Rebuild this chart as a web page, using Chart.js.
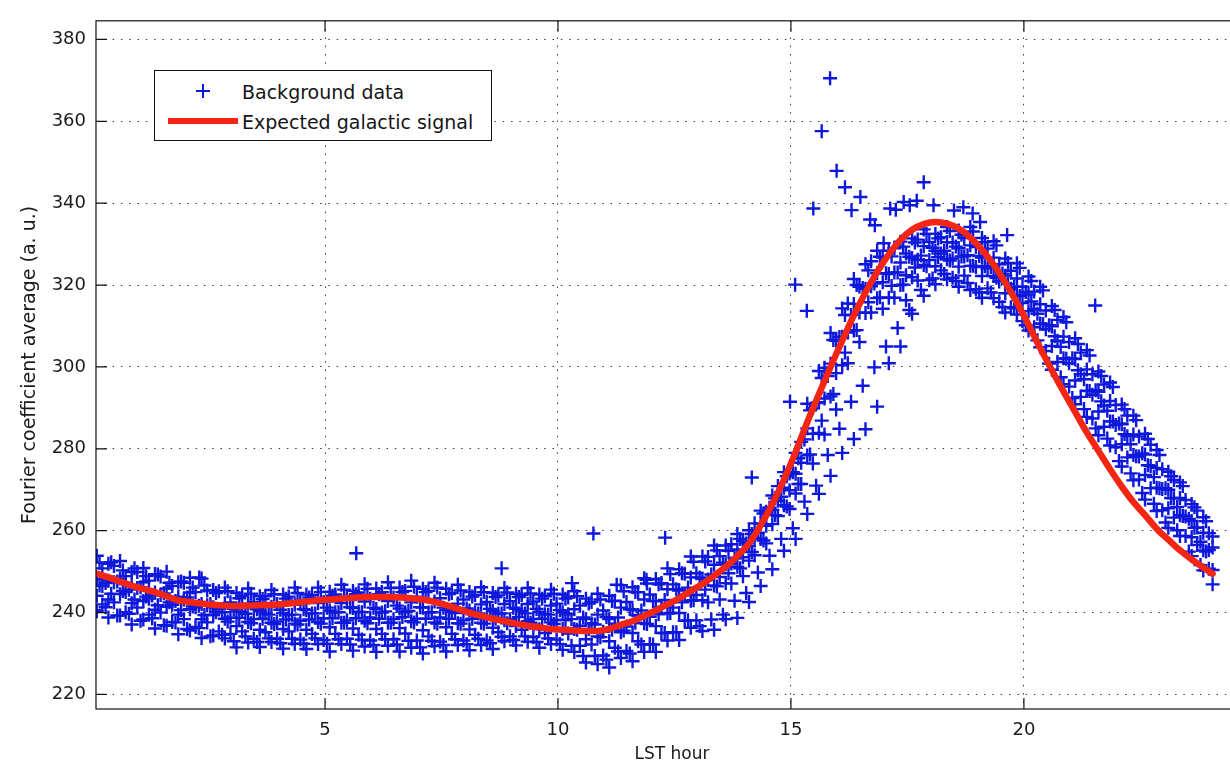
<!DOCTYPE html>
<html>
<head>
<meta charset="utf-8">
<title>Fourier coefficient average vs LST hour</title>
<script src="https://cdn.jsdelivr.net/npm/chart.js@4.4.1/dist/chart.umd.min.js"></script>
<style>
  html, body { margin: 0; padding: 0; background: #fff; overflow: hidden; }
  #wrap { position: relative; width: 1260px; height: 767px; }
  #chart { position: absolute; left: 0; top: 0; }
  /* legend box, drawn in HTML on top of the canvas */
  #legendBox {
    position: absolute; left: 154px; top: 70px; width: 336px; height: 69px;
    border: 1.3px solid #111; background: #fff;
    font-family: 'DejaVu Sans', sans-serif; font-size: 19px; color: #151515;
  }
  #legendBox .label { position: absolute; left: 87px; line-height: 22px; white-space: nowrap; }
  #legendBox .plus { position: absolute; left: 41px; top: 13px; width: 14px; height: 14px; }
  #legendBox .plus span { position: absolute; background: rgb(14, 24, 220); }
  #legendBox .plus .h { left: 0; top: 6px; width: 14px; height: 2px; }
  #legendBox .plus .v { left: 6px; top: 0; width: 2px; height: 14px; }
  #legendBox .redline { position: absolute; left: 13px; top: 46.5px; width: 70px; height: 6.5px; background: #f22613; }
</style>
</head>
<body>
<div id="wrap">
  <canvas id="chart" width="1260" height="767"></canvas>
  <div id="legendBox">
    <div class="plus"><span class="h"></span><span class="v"></span></div>
    <div class="label" style="top: 10px;">Background data</div>
    <div class="redline"></div>
    <div class="label" style="top: 40px;">Expected galactic signal</div>
  </div>
</div>
<script>
// sampling hours (four interleaved sets of days)
const hoursA = [0.10,0.35,0.60,0.85,1.10,1.35,1.60,1.85,2.10,2.35,2.60,2.85,3.10,3.35,3.60,3.85,4.10,4.35,4.60,4.85,
  5.10,5.35,5.60,5.85,6.10,6.35,6.60,6.85,7.10,7.35,7.60,7.85,8.10,8.35,8.60,8.85,9.10,9.35,9.60,9.85,
  10.10,10.35,10.60,10.85,11.10,11.35,11.60,11.85,12.10,12.35,12.60,12.85,13.10,13.35,13.60,13.85,14.10,14.35,14.60,14.85,
  15.10,15.35,15.60,15.85,16.10,16.35,16.60,16.85,17.10,17.35,17.60,17.85,18.10,18.35,18.60,18.85,19.10,19.35,19.60,19.85,
  20.10,20.35,20.60,20.85,21.10,21.35,21.60,21.85,22.10,22.35,22.60,22.85,23.10,23.35,23.60,23.85,24.05];
const hoursB = [0.22,0.47,0.72,0.97,1.22,1.47,1.72,1.97,2.22,2.47,2.72,2.97,3.22,3.47,3.72,3.97,4.22,4.47,4.72,4.97,
  5.22,5.47,5.72,5.97,6.22,6.47,6.72,6.97,7.22,7.47,7.72,7.97,8.22,8.47,8.72,8.97,9.22,9.47,9.72,9.97,
  10.22,10.47,10.72,10.97,11.22,11.47,11.72,11.97,12.22,12.47,12.72,12.97,13.22,13.47,13.72,13.97,14.22,14.47,14.72,14.97,
  15.22,15.47,15.72,15.97,16.22,16.47,16.72,16.97,17.22,17.47,17.72,17.97,18.22,18.47,18.72,18.97,19.22,19.47,19.72,19.97,
  20.22,20.47,20.72,20.97,21.22,21.47,21.72,21.97,22.22,22.47,22.72,22.97,23.22,23.47,23.72,23.97];
const hoursC = [0.16,0.41,0.66,0.91,1.16,1.41,1.66,1.91,2.16,2.41,2.66,2.91,3.16,3.41,3.66,3.91,4.16,4.41,4.66,4.91,
  5.16,5.41,5.66,5.91,6.16,6.41,6.66,6.91,7.16,7.41,7.66,7.91,8.16,8.41,8.66,8.91,9.16,9.41,9.66,9.91,
  10.16,10.41,10.66,10.91,11.16,11.41,11.66,11.91,12.16,12.41,12.66,12.91,13.16,13.41,13.66,13.91,14.16,14.41,14.66,14.91,
  15.16,15.41,15.66,15.91,16.16,16.41,16.66,16.91,17.16,17.41,17.66,17.91,18.16,18.41,18.66,18.91,19.16,19.41,19.66,19.91,
  20.16,20.41,20.66,20.91,21.16,21.41,21.66,21.91,22.16,22.41,22.66,22.91,23.16,23.41,23.66,23.91];
const hoursD = [0.04,0.29,0.54,0.79,1.04,1.29,1.54,1.79,2.04,2.29,2.54,2.79,3.04,3.29,3.54,3.79,4.04,4.29,4.54,4.79,
  5.04,5.29,5.54,5.79,6.04,6.29,6.54,6.79,7.04,7.29,7.54,7.79,8.04,8.29,8.54,8.79,9.04,9.29,9.54,9.79,
  10.04,10.29,10.54,10.79,11.04,11.29,11.54,11.79,12.04,12.29,12.54,12.79,13.04,13.29,13.54,13.79,14.04,14.29,14.54,14.79,
  15.04,15.29,15.54,15.79,16.04,16.29,16.54,16.79,17.04,17.29,17.54,17.79,18.04,18.29,18.54,18.79,19.04,19.29,19.54,19.79,
  20.04,20.29,20.54,20.79,21.04,21.29,21.54,21.79,22.04,22.29,22.54,22.79,23.04,23.29,23.54,23.79];

// background data, one array per day
const day1 = [253.9,251.9,252.6,249.9,250.9,249.4,250.0,247.4,248.5,248.3,
  245.5,246.1,244.8,245.9,244.0,245.5,244.4,246.1,244.4,246.1,
  245.1,246.8,245.3,246.9,245.9,247.4,246.1,247.8,245.8,247.3,
  245.8,246.8,245.0,246.2,244.8,246.0,244.6,246.0,244.4,245.6,
  244.4,245.2,243.4,244.6,244.1,246.7,246.2,248.4,248.2,250.8,
  250.6,253.7,253.7,256.4,256.4,259.2,260.1,264.9,268.6,274.3,
  279.0,291.0,299.0,308.3,314.3,321.5,325.1,328.4,328.4,330.6,
  331.4,333.6,332.5,334.2,333.3,334.2,331.5,330.7,326.5,325.3,
  322.1,319.6,314.9,312.2,307.0,304.1,298.9,296.2,290.8,288.1,
  283.7,279.7,274.4,271.8,266.5,263.3,258.6];
const day2 = [250.8,251.4,248.9,249.9,247.8,248.8,246.5,247.3,245.0,245.4,
  245.2,242.5,244.1,242.6,244.0,242.1,243.9,242.8,244.3,242.6,
  244.4,243.3,244.9,243.4,245.0,243.7,245.3,243.9,245.3,243.5,
  244.8,243.2,244.3,242.6,244.2,242.8,244.3,242.7,244.0,242.2,
  243.7,241.7,242.6,240.5,242.9,242.6,245.0,244.4,247.2,246.9,
  249.5,249.6,253.6,253.8,256.7,257.4,261.8,264.6,270.9,274.0,
  281.7,289.9,299.8,306.4,315.5,319.6,325.8,326.7,329.0,327.7,
  331.1,330.5,331.7,330.4,331.5,329.3,328.9,325.1,323.5,319.6,
  318.4,313.8,311.5,306.1,303.5,298.2,295.7,290.7,288.1,283.0,
  281.0,275.0,272.4,267.5,264.9,259.4];
const day3 = [248.2,247.8,248.3,246.6,247.4,244.9,245.9,243.9,244.9,242.1,
  241.3,242.3,240.3,242.2,240.4,241.4,239.9,241.9,240.6,242.3,
  240.5,242.3,241.1,242.7,240.9,242.8,241.0,242.5,241.2,242.7,
  240.7,242.2,240.5,242.0,240.4,242.1,240.9,242.1,240.2,241.7,
  240.1,240.8,238.4,239.5,238.4,241.2,240.6,243.2,242.8,245.7,
  245.4,248.6,248.3,251.7,251.8,255.4,256.2,261.7,265.1,270.5,
  273.9,285.0,291.4,300.8,307.4,315.4,319.1,322.9,322.7,325.5,
  326.6,329.5,328.4,330.5,329.0,329.7,326.7,326.7,322.3,321.6,
  317.7,315.3,309.9,307.4,301.9,299.4,293.9,291.7,286.0,283.5,
  278.6,275.3,270.0,268.0,262.4,259.5,255.9];
const day4 = [246.5,247.4,245.0,246.0,243.4,244.3,241.9,243.2,241.3,241.8,
  240.8,238.8,240.2,238.4,239.8,237.8,239.4,238.0,239.8,238.6,
  240.1,238.1,240.2,238.8,240.0,238.4,240.1,238.5,240.0,238.8,
  240.2,238.1,240.0,238.4,239.8,238.4,240.4,238.4,239.6,238.2,
  239.6,236.8,237.4,235.3,237.3,236.6,239.4,239.0,241.4,241.2,
  244.2,244.3,248.1,248.7,252.0,253.5,258.2,261.2,267.3,269.9,
  276.6,283.7,292.3,298.5,308.4,313.3,319.7,320.7,323.1,322.4,
  326.2,326.1,327.7,326.5,327.0,324.4,324.1,320.9,319.1,315.6,
  314.1,309.2,306.4,300.9,298.2,293.2,290.6,285.8,283.1,278.1,
  275.8,270.2,267.9,263.5,260.8,255.3];
const day5 = [244.1,243.2,244.5,242.3,242.8,240.7,241.4,239.5,240.8,238.4,
  239.4,238.5,236.7,237.7,235.8,237.5,236.0,237.3,235.8,237.7,
  236.4,237.5,236.1,238.0,236.0,237.5,236.2,237.9,235.7,237.6,
  236.4,237.4,235.9,237.5,236.3,238.1,236.7,237.9,235.9,237.6,
  236.0,236.0,233.5,234.2,233.0,235.2,235.0,237.4,236.7,239.8,
  239.9,242.9,243.0,246.6,247.2,251.2,252.7,258.0,261.6,266.2,
  269.1,278.4,283.9,292.8,300.4,308.9,313.2,316.8,316.9,320.0,
  321.9,324.9,324.6,326.3,324.5,324.7,322.2,322.2,318.0,317.5,
  313.6,310.6,305.1,302.1,296.7,294.2,289.1,286.7,281.1,278.5,
  273.6,270.5,265.5,263.8,258.4,255.2,250.4];
const day6 = [242.0,242.5,240.1,241.2,239.5,240.0,237.7,238.4,236.5,237.6,
  235.4,234.8,235.4,233.6,235.2,233.6,235.4,233.4,234.8,233.3,
  234.8,233.6,234.6,233.2,234.8,233.5,234.9,233.2,234.2,232.9,
  234.8,233.2,234.6,233.2,235.2,234.2,235.8,234.0,235.0,233.4,
  234.9,231.9,232.2,229.5,231.4,230.6,233.0,232.3,235.0,235.2,
  238.0,238.1,242.5,243.2,247.1,248.9,254.0,256.9,263.6,265.3,
  271.4,276.4,283.5,289.6,300.9,306.1,313.3,314.2,316.9,316.3,
  321.1,321.2,323.6,321.8,322.3,319.0,319.2,315.9,314.6,311.2,
  309.7,303.9,301.2,295.2,292.7,287.4,285.4,280.4,277.9,272.5,
  270.4,265.0,263.2,258.7,256.5,250.7];
const day7 = [240.3,238.8,239.3,237.1,238.3,236.1,236.8,234.7,235.6,233.8,
  234.4,233.7,231.5,232.7,231.6,232.8,231.2,232.4,231.1,232.3,
  230.5,232.3,230.7,231.7,230.4,231.9,230.5,231.4,230.0,231.8,
  230.5,232.1,230.8,232.1,231.1,233.0,232.0,232.9,231.4,232.3,
  230.9,230.4,227.8,227.4,226.6,228.9,228.1,230.4,230.4,233.2,
  233.3,236.3,235.5,235.8,238.4,238.7,242.6,246.5,250.6,255.1,
  258.0,264.1,269.0,273.4,279.0,282.4,284.8,290.3,300.9,305.0,
  313.0,317.4,320.2,321.4,319.6,318.8,316.9,316.8,313.3,312.8,
  308.9,304.8,299.3,295.8,290.9,287.8,283.3,280.8,275.7,272.3,
  267.6,264.8,260.7,258.7,253.8,250.3,246.9];
const day8 = [252.2,252.3,250.3,250.8,248.9,249.3,247.3,247.6,246.1,246.6,
  244.8,245.2,243.5,244.6,243.3,244.5,243.4,244.8,243.7,245.0,
  244.1,245.6,244.5,245.8,244.5,246.0,245.0,246.3,245.0,246.1,
  244.5,245.4,243.9,245.0,243.8,244.9,243.8,244.7,243.4,244.6,
  243.4,244.0,242.2,243.2,242.8,245.2,245.0,247.1,246.9,249.4,
  249.6,252.4,252.5,255.2,255.1,258.0,259.2,264.2,267.9,273.3,
  277.7,289.4,297.3,306.6,312.7,320.0,323.6,326.9,327.0,329.4,
  330.4,332.5,331.4,333.2,332.3,333.1,330.5,329.7,325.4,324.2,
  321.0,318.7,313.9,310.9,305.6,302.8,297.8,295.1,289.7,287.0,
  282.4,278.5,273.3,270.9,265.7,262.3];
const day9 = [246.6,244.6,245.3,243.2,243.9,241.8,242.5,240.6,241.5,239.4,
  240.1,237.8,238.7,237.4,238.5,237.2,238.3,237.1,238.3,237.3,
  238.6,237.5,238.6,237.4,238.5,237.5,238.9,237.6,238.5,237.3,
  238.5,237.3,238.5,237.3,238.5,237.4,238.9,237.5,238.5,237.2,
  238.2,235.8,236.0,234.0,235.8,235.6,237.5,237.2,239.6,239.9,
  242.5,243.0,245.6,246.4,249.6,250.8,254.8,257.6,263.8,265.9,
  271.4,278.6,286.9,293.4,303.5,309.0,315.8,317.0,319.8,320.1,
  324.3,324.6,326.8,326.0,327.0,324.7,324.6,321.8,320.3,317.3,
  316.0,310.5,307.5,302.0,299.2,294.1,291.6,286.7,283.6,278.2,
  276.0,270.4,268.0,263.6,260.7,254.9];
const day10 = [249.0,247.2,247.6,245.6,246.2,244.2,244.7,242.8,243.7,241.7,
  242.1,240.1,240.9,239.7,240.8,239.5,240.7,239.5,240.8,239.8,
  241.2,240.1,241.3,240.1,241.2,240.3,241.7,240.4,241.3,240.1,
  241.2,239.9,241.0,239.8,240.9,239.8,241.2,239.8,240.9,239.5,
  240.6,238.4,238.8,237.1,238.9,238.8,240.8,240.5,242.8,243.1,
  245.7,246.1,248.6,249.3,252.2,253.2,256.9,259.5,265.6,268.3,
  274.3,282.3,291.2,297.8,307.3,312.7,319.3,320.4,322.9,323.1,
  326.9,327.2,329.1,328.4,329.4,327.3,327.1,324.4,322.8,319.6,
  318.3,313.0,310.2,304.9,302.1,297.0,294.3,289.3,286.2,281.1,
  278.9,273.1,270.4,265.8,262.9,257.3];
const day11 = [240.6,241.3,239.3,239.7,238.0,238.6,236.9,237.6,236.0,236.2,
  234.2,234.6,233.0,234.2,232.8,233.7,232.5,233.6,232.4,233.7,
  232.4,233.5,232.2,233.4,232.1,233.5,232.2,233.1,231.5,233.1,
  232.1,233.5,232.3,233.6,232.5,234.1,233.3,234.2,232.8,233.7,
  232.3,231.9,229.4,229.4,228.5,230.5,230.0,232.2,232.2,235.0,
  235.2,238.1,236.7,238.3,239.5,242.9,244.8,249.8,253.9,258.0,
  260.6,267.1,271.0,278.5,284.9,291.5,295.4,299.9,305.0,309.5,
  313.9,318.8,321.6,322.7,321.0,320.5,318.2,318.2,314.6,314.3,
  310.2,306.5,300.8,297.5,292.4,289.7,285.0,282.5,277.0,274.0,
  269.2,266.6,262.0,260.1,254.9,251.6];

// isolated samples away from the main band
const strayHours = [2.30,5.67,8.79,10.30,10.76,11.26,11.90,12.30,14.16,14.98,15.09,15.34,15.48,15.66,15.84,15.98,
  16.16,16.30,16.49,16.70,16.80,16.99,17.13,17.25,17.42,17.55,17.70,17.85,18.06,18.50,18.70,18.90,19.06,19.64,21.53];
const strayValues = [248.6,254.5,250.8,247.2,259.3,246.8,248.0,258.3,273.0,291.5,320.1,313.7,338.7,357.6,370.5,347.9,
  343.9,338.3,341.5,336.0,334.6,330.2,338.7,338.4,340.3,339.5,340.6,345.1,339.5,338.2,339.0,337.5,335.4,332.2,315.0];

// expected galactic signal, on hoursA
const signal = [249.5,248.6,247.6,246.6,245.8,245.0,244.0,243.0,242.6,242.2,
  241.9,241.7,241.6,241.7,241.8,241.9,242.1,242.4,242.7,243.0,
  243.2,243.4,243.6,243.8,243.8,243.8,243.7,243.5,243.2,242.6,
  241.8,240.9,240.0,239.2,238.5,237.9,237.3,236.8,236.4,236.0,
  235.8,235.6,235.5,235.5,236.0,237.0,237.9,239.2,240.5,242.0,
  243.5,245.3,247.0,249.0,251.2,253.8,256.9,261.3,266.5,272.5,
  279.2,286.5,293.3,300.0,306.4,312.6,318.2,323.2,327.5,331.0,
  333.5,334.9,335.4,335.0,333.8,331.6,328.6,325.0,320.6,315.7,
  310.3,304.6,299.2,294.0,289.0,284.0,279.5,275.0,270.8,267.0,
  263.8,260.5,257.8,255.2,253.0,251.0,249.5];

const xTickValues = [5, 10, 15, 20];
const yTickValues = [220, 240, 260, 280, 300, 320, 340, 360, 380];

const blue = 'rgb(14, 24, 220)';
const red = '#f22613';
const fontFamily = "'DejaVu Sans', sans-serif";
const tickLen = 11;

const toPoints = (xs, ys) => ys.map((v, i) => ({ x: xs[i], y: v }));

const dayRuns = [
  [hoursA, day1], [hoursB, day2], [hoursA, day3], [hoursB, day4],
  [hoursA, day5], [hoursB, day6], [hoursA, day7], [hoursC, day8],
  [hoursC, day9], [hoursD, day10], [hoursD, day11], [strayHours, strayValues]
];

const datasets = dayRuns.map(([xs, ys]) => ({
  data: toPoints(xs, ys),
  pointStyle: 'cross',
  pointRadius: 7,
  pointBorderWidth: 2.4,
  borderColor: blue,
  backgroundColor: blue,
  showLine: false,
  clip: 0,
  order: 2
}));

datasets.push({
  data: toPoints(hoursA, signal),
  showLine: true,
  borderColor: red,
  borderWidth: 6.5,
  borderCapStyle: 'round',
  borderJoinStyle: 'round',
  pointRadius: 0,
  cubicInterpolationMode: 'monotone',
  clip: 0,
  order: 0
});

// box around the axes plus inward tick marks on all four sides
const axesFrame = {
  id: 'axesFrame',
  afterDraw(chart) {
    const { ctx, chartArea: a, scales: { x, y } } = chart;
    ctx.save();
    ctx.strokeStyle = '#111';
    ctx.lineWidth = 1.2;
    ctx.strokeRect(a.left, a.top, a.right - a.left, a.bottom - a.top);
    ctx.beginPath();
    x.ticks.forEach(t => {
      const px = x.getPixelForValue(t.value);
      ctx.moveTo(px, a.bottom); ctx.lineTo(px, a.bottom - tickLen);
      ctx.moveTo(px, a.top); ctx.lineTo(px, a.top + tickLen);
    });
    y.ticks.forEach(t => {
      const py = y.getPixelForValue(t.value);
      ctx.moveTo(a.left, py); ctx.lineTo(a.left + tickLen, py);
      ctx.moveTo(a.right, py); ctx.lineTo(a.right - tickLen, py);
    });
    ctx.stroke();
    ctx.restore();
  }
};

const gridOpts = { color: '#3a3a3a', lineWidth: 1, drawTicks: false };
const borderOpts = { display: false, dash: [1.5, 6.8] };

new Chart(document.getElementById('chart').getContext('2d'), {
  type: 'scatter',
  data: { datasets },
  options: {
    responsive: false,
    devicePixelRatio: 1,
    animation: false,
    events: [],
    layout: { padding: { top: 13.5, right: 12, bottom: 0, left: 0 } },
    plugins: { legend: { display: false }, tooltip: { enabled: false } },
    scales: {
      x: {
        type: 'linear', min: 0.084, max: 24.81, bounds: 'data',
        afterBuildTicks: s => { s.ticks = xTickValues.map(v => ({ value: v })); },
        afterFit: s => { s.height = 58; },
        grid: gridOpts,
        border: borderOpts,
        ticks: { color: '#1a1a1a', font: { family: fontFamily, size: 18 }, padding: 11, autoSkip: false, maxRotation: 0 },
        title: { display: true, text: 'LST hour', color: '#1a1a1a', font: { family: fontFamily, size: 17 }, padding: { top: 0, bottom: 2 } }
      },
      y: {
        type: 'linear', min: 216.45, max: 384.55, bounds: 'data',
        afterBuildTicks: s => { s.ticks = yTickValues.map(v => ({ value: v })); },
        afterFit: s => { s.width = 96; },
        grid: gridOpts,
        border: borderOpts,
        ticks: { color: '#1a1a1a', font: { family: fontFamily, size: 18 }, padding: 10, autoSkip: false },
        title: { display: true, text: 'Fourier coefficient average (a. u.)', color: '#1a1a1a', font: { family: fontFamily, size: 19 }, padding: { top: 19, bottom: 0 } }
      }
    }
  },
  plugins: [axesFrame]
});
</script>
</body>
</html>
